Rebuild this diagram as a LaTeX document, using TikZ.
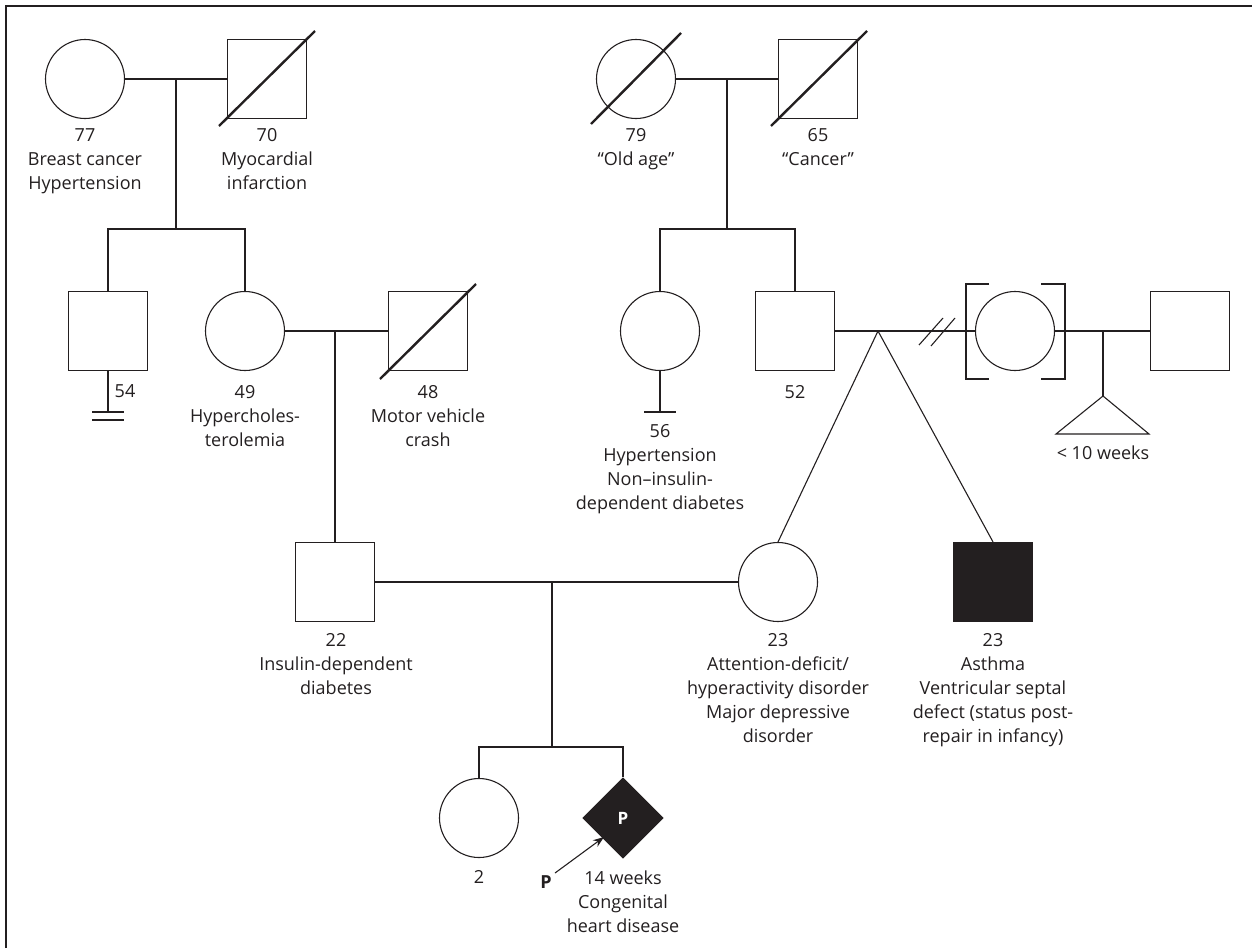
\documentclass[tikz,border=0pt]{standalone}
\usepackage{fontspec}
\setmainfont{Open Sans}
\usetikzlibrary{shapes.geometric,calc,arrows.meta}
\definecolor{ink}{HTML}{231F20}
\tikzset{
  ln/.style={draw=ink, line width=1.1pt},
  male/.style={ln, rectangle, minimum size=79pt, inner sep=0pt, fill=white},
  female/.style={ln, circle, minimum size=79pt, inner sep=0pt, fill=white},
  dead/.style={draw=ink, line width=2.4pt},
  lbl/.style={anchor=north, align=center, inner sep=0pt, text=ink,
    font=\fontsize{18}{24}\selectfont},
  frame/.style={draw=ink, line width=2pt}
}
\begin{document}
\begin{tikzpicture}[x=1pt,y=-1pt]
\useasboundingbox (0,0) rectangle (1252,948);
\draw[frame] (6,948) -- (6,5.5) -- (1252,5.5);

% ---- generation I
\node[female] (gm1) at (85,79) {};
\node[male]   (gf1) at (267,79) {};
\node[female] (gm2) at (636,79) {};
\node[male]   (gf2) at (818,79) {};
% ---- generation II
\node[male]   (u54) at (108,331) {};
\node[female] (m49) at (245,331) {};
\node[male]   (f48) at (428,331) {};
\node[female] (a56) at (660,331) {};
\node[male]   (f52) at (795,331) {};
\node[female] (ex)  at (1015,331) {};
\node[male]   (exp) at (1190,331) {};
% ---- generation III
\node[male]   (s22) at (335,582) {};
\node[female] (w23) at (778,582) {};
\node[male, fill=ink] (b23) at (993,582) {};
% ---- generation IV
\node[female] (d2) at (479,818) {};
\node[ln, diamond, minimum width=80pt, minimum height=80pt, inner sep=0pt, fill=ink,
      text=white, font=\fontsize{17}{20}\selectfont\bfseries] (pro) at (623,818) {P};

% deceased slashes
\draw[dead] ($(gf1.center)+(-48,47)$) -- ($(gf1.center)+(48,-48)$);
\draw[dead] ($(gm2.center)+(-45,45)$) -- ($(gm2.center)+(45,-46)$);
\draw[dead] ($(gf2.center)+(-47,47)$) -- ($(gf2.center)+(49,-48)$);
\draw[dead] ($(f48.center)+(-48,48)$) -- ($(f48.center)+(48,-47)$);

% coordinates
\coordinate (c1) at (176,79);   \coordinate (sib1) at (176,229);
\coordinate (c2) at (727,79);   \coordinate (sib2) at (727,229);
\coordinate (c3) at (335,331);
\coordinate (c4) at (878,331);
\coordinate (c5) at (1103,331);
\coordinate (c6) at (552,582);  \coordinate (sib3) at (552,747);
\coordinate (t1) at (1103,396); \coordinate (t2) at (1056,434); \coordinate (t3) at (1149,434);
\coordinate (u54s) at (108,412);
\coordinate (a56s) at (660,412);

% marriages and descent
\draw[ln] (gm1.east) -- (gf1.west);
\draw[ln] (c1) -- (sib1);
\draw[ln] (u54.north) |- (sib1) -| (m49.north);

\draw[ln] (gm2.east) -- (gf2.west);
\draw[ln] (c2) -- (sib2);
\draw[ln] (a56.north) |- (sib2) -| (f52.north);

\draw[ln] (m49.east) -- (f48.west);
\draw[ln] (c3) -- (s22.north);

\draw[ln] (f52.east) -- (ex.west);
\draw[ln] (919,345) -- (943,318);
\draw[ln] (931,346) -- (955,318);
\draw[ln] (c4) -- (w23.north);
\draw[ln] (c4) -- (b23.north);

\draw[ln] (ex.east) -- (exp.west);
\draw[ln] (c5) -- (t1);
\draw[ln, line join=miter] (t1) -- (t2) -- (t3) -- cycle;

% brackets around ex-partner
\draw[ln] ($(ex.center)+(-26,-47)$) -| ($(ex.center)+(-49,48)$) -- ($(ex.center)+(-26,48)$);
\draw[ln] ($(ex.center)+(26,-47)$) -| ($(ex.center)+(50,48)$) -- ($(ex.center)+(26,48)$);

% no-offspring / infertility marks
\draw[ln] (u54.south) -- (u54s);
\draw[ln] ($(u54s)+(-16,0)$) -- ($(u54s)+(16,0)$);
\draw[ln] ($(u54s)+(-16,8)$) -- ($(u54s)+(16,8)$);
\draw[ln] (a56.south) -- (a56s);
\draw[ln] ($(a56s)+(-16,0)$) -- ($(a56s)+(16,0)$);

\draw[ln] (s22.east) -- (w23.west);
\draw[ln] (c6) -- (sib3);
\draw[ln] (d2.north) |- (sib3) -| (pro.north);

% proband arrow
\node[lbl, anchor=center, font=\fontsize{18}{20}\selectfont\bfseries] (plab) at (546,882) {P};
\coordinate (ps) at (555,873);
\coordinate (pe) at (604,837);
\draw[draw=ink, line width=1.1pt, -{Stealth[length=11pt,width=8pt]}] (ps) -- (pe);

% labels
\node[lbl] (l77) at (85,128.5) {77\\Breast cancer\\Hypertension};
\node[lbl] (l70) at (267,128.5) {70\\Myocardial\\infarction};
\node[lbl] (l79) at (636,128.5) {79\\“Old age”};
\node[lbl] (l65) at (818,128.5) {65\\“Cancer”};
\node[lbl] (l54) at (125,384.5) {54};
\node[lbl] (l49) at (245,385.5) {49\\Hypercholes-\\terolemia};
\node[lbl] (l48) at (428,385.5) {48\\Motor vehicle\\crash};
\node[lbl] (l56) at (660,424.5) {56\\Hypertension\\Non–insulin-\\dependent diabetes};
\node[lbl] (l52) at (795,385.5) {52};
\node[lbl, anchor=base] (l10) at (1103,459) {< 10 weeks};
\node[lbl] (l22) at (336,633.5) {22\\Insulin-dependent\\diabetes};
\node[lbl] (l23a) at (778,633.5) {23\\Attention-deficit/\\hyperactivity disorder\\Major depressive\\disorder};
\node[lbl] (l23b) at (993,633.5) {23\\Asthma\\Ventricular septal\\defect (status post-\\repair in infancy)};
\node[lbl] (l2) at (479,870.5) {2};
\node[lbl] (l14) at (623,870.5) {14 weeks\\Congenital\\heart disease};
\end{tikzpicture}
\end{document}
